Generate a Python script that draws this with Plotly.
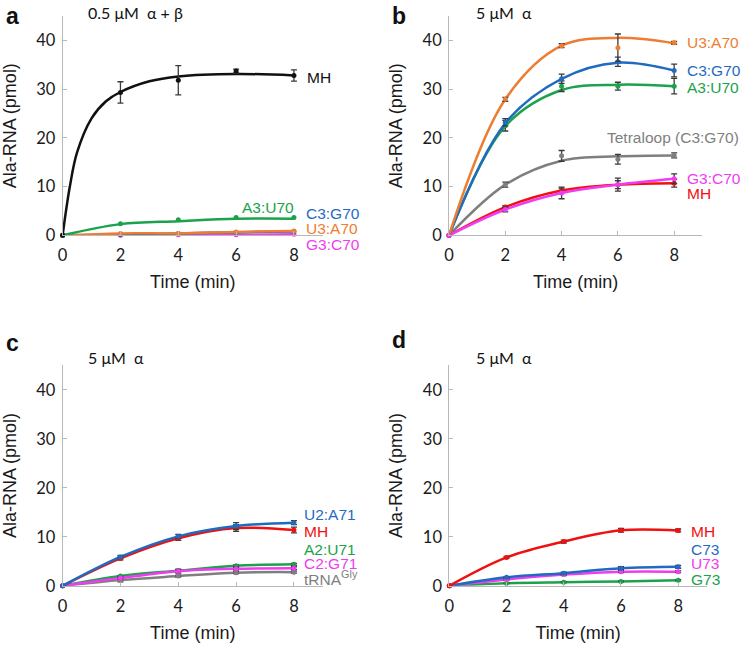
import plotly.graph_objects as go

# ---------------- data ----------------
T = [0, 2, 4, 6, 8]
xticks = [0, 2, 4, 6, 8]
yticks = [0, 10, 20, 30, 40]

# Panel a: 0.5 uM alpha + beta
a_MH = [0, 29.3, 31.8, 33.7, 32.8]
a_MH_err = [0, 2.2, 3.0, 0.4, 1.15]
a_MH_fit_t = [0, 0.25, 0.5, 1, 1.5, 2, 3, 4, 6, 8]
a_MH_fit = [0, 10, 17, 24, 27.5, 29.4, 31.6, 32.6, 33.1, 32.8]
a_A3U70 = [0, 2.4, 3.2, 3.65, 3.65]
a_A3U70_fit = [0, 2.3, 2.9, 3.4, 3.4]
a_C3G70 = [0, 0.1, 0.4, 0.6, 0.8]
a_U3A70 = [0, 0.4, 0.4, 0.7, 0.9]
a_G3C70 = [0, 0.0, 0.1, 0.1, 0.2]

# Panel b: 5 uM alpha
b_U3A70 = [0, 27.9, 38.9, 38.5, 39.5]
b_U3A70_err = [0, 0.4, 0.4, 2.8, 0.3]
b_U3A70_fit = [0, 27.9, 38.9, 40.5, 39.4]
b_C3G70 = [0, 23.2, 32.1, 35.6, 33.8]
b_C3G70_err = [0, 0.75, 0.95, 0.95, 1.3]
b_C3G70_fit = [0, 23.0, 32.1, 35.4, 33.8]
b_A3U70 = [0, 22.5, 30.6, 30.6, 30.6]
b_A3U70_err = [0, 1.1, 1.1, 0.8, 1.6]
b_A3U70_fit = [0, 22.4, 29.8, 30.9, 30.6]
b_Tetra = [0, 10.4, 16.3, 15.6, 16.4]
b_Tetra_err = [0, 0.5, 1.1, 1.0, 0.5]
b_Tetra_fit = [0, 10.4, 15.3, 16.2, 16.4]
b_MH = [0, 5.8, 9.2, 10.4, 10.7]
b_MH_err = [0, 0.3, 0.5, 0.8, 0.8]
b_G3C70 = [0, 5.3, 8.7, 10.4, 11.6]
b_G3C70_err = [0, 0.5, 1.2, 1.35, 1.0]

# Panel c: 5 uM alpha
c_U2A71 = [0, 5.9, 10.1, 12.2, 12.9]
c_U2A71_err = [0, 0.3, 0.4, 0.7, 0.4]
c_MH = [0, 5.6, 9.7, 11.8, 11.4]
c_MH_err = [0, 0.3, 0.4, 0.7, 0.6]
c_A2U71 = [0, 2.0, 3.1, 4.1, 4.4]
c_A2U71_err = [0, 0.1, 0.2, 0.2, 0.2]
c_C2G71 = [0, 1.6, 3.0, 3.5, 3.6]
c_C2G71_err = [0, 0.2, 0.4, 0.3, 0.3]
c_Gly = [0, 1.2, 2.0, 2.7, 2.8]
c_Gly_err = [0, 0.4, 0.2, 0.2, 0.2]

# Panel d: 5 uM alpha
d_MH = [0, 5.8, 9.05, 11.35, 11.3]
d_MH_err = [0, 0.2, 0.3, 0.4, 0.3]
d_C73 = [0, 1.75, 2.6, 3.6, 3.9]
d_C73_err = [0, 0.1, 0.2, 0.3, 0.3]
d_U73 = [0, 1.3, 2.3, 2.9, 2.9]
d_U73_err = [0, 0.1, 0.2, 0.2, 0.2]
d_G73 = [0, 0.55, 0.75, 0.9, 1.15]
d_G73_err = [0, 0.05, 0.1, 0.1, 0.1]

# ---------------- style ----------------
BLACK = "#111111"
ORANGE = "#ED7D31"
BLUE = "#1F6BBF"
GREEN = "#1BA24A"
MAGENTA = "#F03CF0"
RED = "#F01010"
GRAY = "#7F7F7F"
ERRC = "#3a3a3a"
AXC = "#b8b8b8"

fig = go.Figure()

def series(ax, y, color, err=None, fit=None, fit_t=None):
    xa, ya = ax
    lx = fit_t if fit_t is not None else T
    ly = fit if fit is not None else y
    fig.add_trace(go.Scatter(x=lx, y=ly, mode="lines", xaxis=xa, yaxis=ya,
                             line=dict(color=color, width=2.5, shape="spline", smoothing=1.0),
                             cliponaxis=False, showlegend=False, hoverinfo="skip"))
    ek = dict(type="data", array=err, visible=True, color=ERRC, thickness=1.3, width=3) if err else None
    fig.add_trace(go.Scatter(x=T, y=y, mode="markers", xaxis=xa, yaxis=ya,
                             marker=dict(color=color, size=5),
                             error_y=ek, cliponaxis=False, showlegend=False))

A = ("x", "y"); B = ("x2", "y2"); C = ("x3", "y3"); D = ("x4", "y4")

# panel a
series(A, a_G3C70, MAGENTA)
series(A, a_C3G70, BLUE)
series(A, a_U3A70, ORANGE)
series(A, a_A3U70, GREEN, fit=a_A3U70_fit)
series(A, a_MH, BLACK, err=a_MH_err, fit=a_MH_fit, fit_t=a_MH_fit_t)
# panel b
series(B, b_Tetra, GRAY, err=b_Tetra_err, fit=b_Tetra_fit)
series(B, b_A3U70, GREEN, err=b_A3U70_err, fit=b_A3U70_fit)
series(B, b_C3G70, BLUE, err=b_C3G70_err, fit=b_C3G70_fit)
series(B, b_U3A70, ORANGE, err=b_U3A70_err, fit=b_U3A70_fit)
series(B, b_MH, RED, err=b_MH_err)
series(B, b_G3C70, MAGENTA, err=b_G3C70_err)
# panel c
series(C, c_Gly, GRAY, err=c_Gly_err)
series(C, c_A2U71, GREEN, err=c_A2U71_err)
series(C, c_C2G71, MAGENTA, err=c_C2G71_err)
series(C, c_MH, RED, err=c_MH_err)
series(C, c_U2A71, BLUE, err=c_U2A71_err)
# panel d
series(D, d_G73, GREEN, err=d_G73_err)
series(D, d_U73, MAGENTA, err=d_U73_err)
series(D, d_C73, BLUE, err=d_C73_err)
series(D, d_MH, RED, err=d_MH_err)

W, H = 749, 652
def fx(p): return p / W
def fy(p): return (H - p) / H

tickfont = dict(family="Lato, Carlito, sans-serif", size=16.5, color="#1a1a1a")
titlefont = dict(family="Liberation Sans, Arial, sans-serif", size=18, color="#1a1a1a")

def xaxis(dom, anchor):
    return dict(domain=dom, anchor=anchor, range=[0, 9], tickvals=xticks, showline=True,
                linecolor=AXC, linewidth=1, ticks="inside", ticklen=4, tickcolor=AXC,
                showgrid=False, zeroline=False, tickfont=tickfont, ticklabelstandoff=5,
                title=dict(text="Time (min)", font=titlefont, standoff=11))

def yaxis(dom, anchor):
    return dict(domain=dom, anchor=anchor, range=[0, 45], tickvals=yticks, showline=True,
                linecolor=AXC, linewidth=1, ticks="inside", ticklen=4, tickcolor=AXC,
                showgrid=False, zeroline=False, tickfont=tickfont, ticklabelstandoff=3,
                title=dict(text="Ala-RNA (pmol)", font=titlefont, standoff=15))

fig.update_layout(
    width=W, height=H, margin=dict(l=0, r=0, t=0, b=0),
    paper_bgcolor="white", plot_bgcolor="white", showlegend=False,
    xaxis=xaxis([fx(58), fx(320)], "y"),
    yaxis=yaxis([fy(239), fy(16.2)], "x"),
    xaxis2=xaxis([fx(447), fx(702)], "y2"),
    yaxis2=yaxis([fy(239), fy(16.2)], "x2"),
    xaxis3=xaxis([fx(58), fx(320)], "y3"),
    yaxis3=yaxis([fy(595), fy(371)], "x3"),
    xaxis4=xaxis([fx(447.3), fx(706.5)], "y4"),
    yaxis4=yaxis([fy(595), fy(371)], "x4"),
)

lab_font = "Liberation Sans, Arial, sans-serif"
ann = []
def lab(x, y, text, color, anchor="left"):
    ann.append(dict(xref="paper", yref="paper", x=fx(x), y=fy(y), text=text, showarrow=False,
                    xanchor=anchor, yanchor="middle",
                    font=dict(family=lab_font, size=15.5, color=color)))

# panel a labels
lab(302, 79, "MH", BLACK)
lab(237, 211, "A3:U70", GREEN)
lab(301, 217, "C3:G70", BLUE)
lab(301, 232, "U3:A70", ORANGE)
lab(301, 248, "G3:C70", MAGENTA)
# panel b labels
lab(685, 43, "U3:A70", ORANGE)
lab(685, 72, "C3:G70", BLUE)
lab(685, 89, "A3:U70", GREEN)
lab(741, 140, "Tetraloop (C3:G70)", GRAY, anchor="right")
lab(685, 181, "G3:C70", MAGENTA)
lab(685, 197, "MH", RED)
# panel c labels
lab(299, 523, "U2:A71", BLUE)
lab(299, 540, "MH", RED)
lab(299, 558, "A2:U71", GREEN)
lab(299, 572, "C2:G71", MAGENTA)
lab(299, 587, "tRNA<sup>Gly</sup>", GRAY)
# panel d labels
lab(689, 540, "MH", RED)
lab(689, 558, "C73", BLUE)
lab(689, 572, "U73", MAGENTA)
lab(689, 589, "G73", GREEN)

def ptext(x, y, text, size=16, bold=False, family="Lato, sans-serif"):
    ann.append(dict(xref="paper", yref="paper", x=fx(x), y=fy(y), text=("<b>%s</b>" % text) if bold else text,
                    showarrow=False, xanchor="left", yanchor="middle",
                    font=dict(family=family, size=size, color="#111111")))

ptext(82, 13, "0.5 \u03bcM\u00a0\u00a0\u03b1 + \u03b2")
ptext(472, 13, "5 \u03bcM\u00a0\u00a0\u03b1")
ptext(82, 363, "5 \u03bcM\u00a0\u00a0\u03b1")
ptext(472, 363, "5 \u03bcM\u00a0\u00a0\u03b1")

ptext(-1, 16, "a", size=23, bold=True, family="Liberation Sans, Arial, sans-serif")
ptext(388, 16, "b", size=23, bold=True, family="Liberation Sans, Arial, sans-serif")
ptext(-1, 348, "c", size=23, bold=True, family="Liberation Sans, Arial, sans-serif")
ptext(388, 345, "d", size=23, bold=True, family="Liberation Sans, Arial, sans-serif")

fig.update_layout(annotations=ann)
fig.write_html("out.html", config={"displayModeBar": False},
               post_script="document.body.style.margin='0';document.body.style.padding='0';")
